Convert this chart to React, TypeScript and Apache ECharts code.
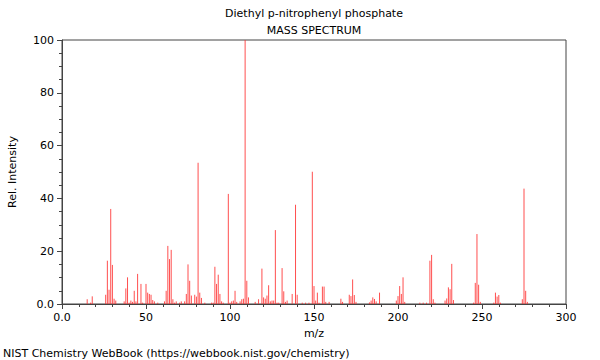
import React, { useEffect, useRef } from "react";
import * as echarts from "echarts";

const mz: number[] = [
  15, 17, 18, 26, 27, 28, 29, 30, 31, 32, 37, 38, 39, 40, 41, 42, 43, 44, 45, 47, 48, 50, 51, 52, 53, 54, 55, 57,
  61, 62, 63, 64, 65, 66, 67, 68, 70, 71, 73, 74, 75, 76, 77, 79, 80, 81, 82, 83, 85, 89, 90, 91, 92, 93, 94, 95, 96,
  99, 100, 101, 102, 103, 104, 106, 107, 108, 109, 110, 111, 115, 117, 119, 120, 121, 122, 123, 124, 125, 126, 127,
  128, 129, 131, 132, 133, 134, 137, 139, 140, 143, 145, 147, 149, 150, 151, 152, 153, 155, 156, 157, 159, 166, 167,
  171, 172, 173, 174, 175, 183, 184, 185, 186, 187, 189, 199, 200, 201, 202, 203, 204, 213, 215, 217, 219, 220, 221,
  222, 228, 229, 230, 231, 232, 233, 245, 246, 247, 248, 249, 257, 258, 259, 260, 261, 274, 275, 276, 277,
];
const intensity: number[] = [
  1.8, 0.5, 2.9, 3.5, 16.4, 5.4, 36, 14.8, 2, 1.3, 1, 5.9, 10.1, 0.5, 1.3, 0.8, 5, 1, 11.4, 7.6, 0.5, 7.6, 4.3, 3.8,
  3.5, 1.5, 1, 0.5, 1, 5, 22, 17, 20.5, 1.8, 0.5, 1, 0.5, 1, 1, 3.8, 15, 8.8, 3.2, 3.5, 2.8, 53.5, 4.3, 2.3, 0.5, 0.5,
  0.5, 14.1, 7.6, 11.1, 3.8, 1, 0.5, 41.7, 0.5, 1, 1.3, 5, 0.8, 1, 1.8, 2, 100, 8.8, 2.5, 0.8, 1.8, 13.4, 2.5, 2,
  3.2, 7.1, 1, 1.3, 1.3, 28, 0.5, 0.5, 13.6, 4.8, 0.8, 1.3, 3.8, 37.6, 3.5, 0.5, 0.5, 0.5, 50.1, 6.8, 1.3, 4.3, 0.5,
  6.6, 6.6, 0.8, 0.8, 2, 0.8, 3.5, 3, 9.3, 3.4, 0.8, 0.6, 1.3, 2.5, 1.9, 1, 4.3, 1.3, 3, 6.8, 3.8, 10.1, 0.8, 0.5,
  0.5, 0.5, 16.4, 18.6, 1.8, 0.5, 1.3, 2.1, 6.3, 5.6, 15.2, 1.5, 0.5, 8, 26.5, 7.3, 0.8, 0.5, 4.3, 2.8, 3.4, 0.5,
  1.8, 43.7, 5, 0.8,
];
const xTicks: number[] = [0, 50, 100, 150, 200, 250, 300];
const yTicks: number[] = [0, 20, 40, 60, 80, 100];
const titleLine1 = "Diethyl p-nitrophenyl phosphate";
const titleLine2 = "MASS SPECTRUM";
const footer = "NIST Chemistry WebBook (https://webbook.nist.gov/chemistry)";

const FONT = "DejaVu Sans";
const AXIS_COLOR = "#444";

export default function App() {
  const ref = useRef<HTMLDivElement>(null);
  useEffect(() => {
    if (!ref.current) return;
    const chart = echarts.init(ref.current, undefined, { renderer: "svg" });
    const data = mz.map((m, i) => [m, intensity[i]]);
    const fmt = (v: number) => (v === 0 ? "0.0" : String(v));
    const txt = (text: string, x: number, y: number, align: string, rotation = 0) => ({
      type: "text",
      x,
      y,
      rotation,
      style: { text, font: `11px "${FONT}"`, fill: "#000", textAlign: align, textVerticalAlign: "middle" },
    });
    chart.setOption({
      animation: false,
      grid: { left: 62, right: 34, top: 40, bottom: 56, show: true, borderColor: AXIS_COLOR, borderWidth: 1, backgroundColor: "transparent" },
      xAxis: {
        type: "value",
        min: xTicks[0],
        max: xTicks[xTicks.length - 1],
        interval: 50,
        axisLine: { show: true, lineStyle: { color: AXIS_COLOR } },
        axisTick: { show: true, length: 5, lineStyle: { color: AXIS_COLOR } },
        minorTick: { show: true, splitNumber: 5, length: 3, lineStyle: { color: AXIS_COLOR } },
        splitLine: { show: false },
        axisLabel: { formatter: fmt, color: "#000", fontFamily: FONT, fontSize: 11, margin: 8 },
      },
      yAxis: {
        type: "value",
        min: yTicks[0],
        max: yTicks[yTicks.length - 1],
        interval: 20,
        axisLine: { show: true, lineStyle: { color: AXIS_COLOR } },
        axisTick: { show: true, length: 5, lineStyle: { color: AXIS_COLOR } },
        minorTick: { show: true, splitNumber: 4, length: 3, lineStyle: { color: AXIS_COLOR } },
        splitLine: { show: false },
        axisLabel: { formatter: fmt, color: "#000", fontFamily: FONT, fontSize: 11, margin: 8 },
      },
      series: [
        {
          type: "custom",
          data,
          renderItem: (params: any, api: any) => {
            const m = api.value(0);
            const v = api.value(1);
            const p0 = api.coord([m, 0]);
            const p1 = api.coord([m, v]);
            return {
              type: "line",
              shape: { x1: p0[0], y1: p0[1], x2: p1[0], y2: p1[1] },
              style: { stroke: "#ff3030", lineWidth: 1, opacity: 0.85 },
            };
          },
        },
      ],
      graphic: [
        txt(titleLine1, 314, 13, "center"),
        txt(titleLine2, 314, 30, "center"),
        txt("m/z", 314, 333, "center"),
        txt("Rel. Intensity", 12, 172, "center", Math.PI / 2),
        txt(footer, 3, 353, "left"),
      ],
    });
    return () => chart.dispose();
  }, []);
  return <div ref={ref} style={{ position: "absolute", left: 0, top: 0, width: 600, height: 360 }} />;
}
